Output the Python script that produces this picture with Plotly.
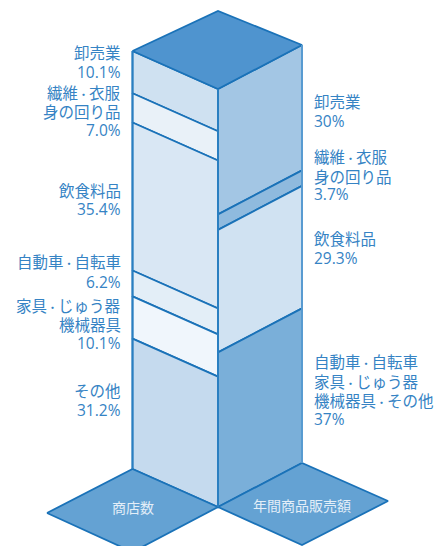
import plotly.graph_objects as go

# Data (percent, top of column to bottom)
store_names = ["卸売業", "繊維・衣服 身の回り品", "飲食料品", "自動車・自転車", "家具・じゅう器 機械器具", "その他"]
store_values = [10.1, 7.0, 35.4, 6.2, 10.1, 31.2]
sales_names = ["卸売業", "繊維・衣服 身の回り品", "飲食料品", "自動車・自転車 家具・じゅう器 機械器具・その他"]
sales_values = [30, 3.7, 29.3, 37]
store_title = "商店数"
sales_title = "年間商品販売額"

store_lines = ["卸売業", "10.1%", "繊維・衣服", "身の回り品", "7.0%", "飲食料品", "35.4%",
               "自動車・自転車", "6.2%", "家具・じゅう器", "機械器具", "10.1%", "その他", "31.2%"]
store_line_y = [53, 72, 93, 112, 130, 191, 209, 262, 282, 306, 325, 343, 391, 410]
sales_lines = ["卸売業", "30%", "繊維・衣服", "身の回り品", "3.7%", "飲食料品", "29.3%",
               "自動車・自転車", "家具・じゅう器", "機械器具・その他", "37%"]
sales_line_y = [102, 121, 157, 177, 194, 239, 258, 362, 382, 401, 419]

store_colors = ["#cfe1f1", "#e9f1f8", "#d9e7f4", "#e3eef7", "#f0f6fc", "#c5daee"]
sales_colors = ["#a3c6e4", "#8fbade", "#d0e2f2", "#7aafd9"]
LINE = "#1a72b8"
TEXT = "#3583c4"
TOP = "#4f94cf"
BASE = "#64a2d3"

# Projection of the prism onto the page
X_L, X_M, X_R = 132.5, 218, 302
Y_L, Y_M, Y_R = 51, 89, 45
H = 418
X_LEFT_TIP, X_RIGHT_TIP = 47, 388

fig = go.Figure()


def poly(xs, ys, fill, line=LINE, width=1.8):
    fig.add_trace(go.Scatter(x=xs + xs[:1], y=ys + ys[:1], mode="lines", fill="toself",
                             fillcolor=fill, line=dict(color=line, width=width),
                             hoverinfo="skip", showlegend=False))


def column(values, colors, x_out, y_out):
    total = sum(values)
    acc = 0
    for v, c in zip(values, colors):
        a = acc / total * H
        acc += v
        b = acc / total * H
        poly([x_out, X_M, X_M, x_out], [y_out + a, Y_M + a, Y_M + b, y_out + b], c)


column(store_values, store_colors, X_L, Y_L)
column(sales_values, sales_colors, X_R, Y_R)

# Top face
poly([X_L, X_M, X_R, X_M], [Y_L, Y_M, Y_R, 11], TOP)
# Base faces
poly([X_LEFT_TIP, X_L, X_M, X_L], [Y_L + H + 44, Y_L + H, Y_M + H, Y_L + H + 83], BASE)
poly([X_M, X_R, X_RIGHT_TIP, X_R], [Y_M + H, Y_R + H, Y_R + H + 38, Y_R + H + 82], BASE)

# Vertical edges
for x, y, col, w in [(X_L, Y_L, "#2a7fc1", 1.8), (X_M, Y_M, "#2a7fc1", 2), (X_R, Y_R, "#5e9fd3", 1.8)]:
    fig.add_trace(go.Scatter(x=[x, x], y=[y, y + H], mode="lines", line=dict(color=col, width=w),
                             hoverinfo="skip", showlegend=False))

FONT = "'Open Sans', 'Noto Sans CJK JP', sans-serif"


def tight(t):
    return t.replace("・", '<span style="font-size:11px">・</span>')


ann = []
for t, y in zip(store_lines, store_line_y):
    ann.append(dict(x=123, y=y, text=tight(t), xanchor="right", yanchor="middle", showarrow=False,
                    font=dict(family=FONT, size=15.5, color=TEXT)))
for t, y in zip(sales_lines, sales_line_y):
    ann.append(dict(x=312, y=y, text=tight(t), xanchor="left", yanchor="middle", showarrow=False,
                    font=dict(family=FONT, size=15.5, color=TEXT)))
ann.append(dict(x=132.5, y=507, text=store_title, showarrow=False,
                font=dict(family=FONT, size=14, color="#e3eef8")))
ann.append(dict(x=302, y=505, text=sales_title, showarrow=False,
                font=dict(family=FONT, size=14, color="#e3eef8")))

fig.update_layout(
    width=439, height=546, margin=dict(l=0, r=0, t=0, b=0),
    paper_bgcolor="white", plot_bgcolor="white", annotations=ann,
    xaxis=dict(range=[0, 439], visible=False, fixedrange=True),
    yaxis=dict(range=[546, 0], visible=False, fixedrange=True),
)
fig.write_html("out.html", config={"displayModeBar": False},
               post_script="document.body.style.margin='0';document.body.style.overflow='hidden';")
